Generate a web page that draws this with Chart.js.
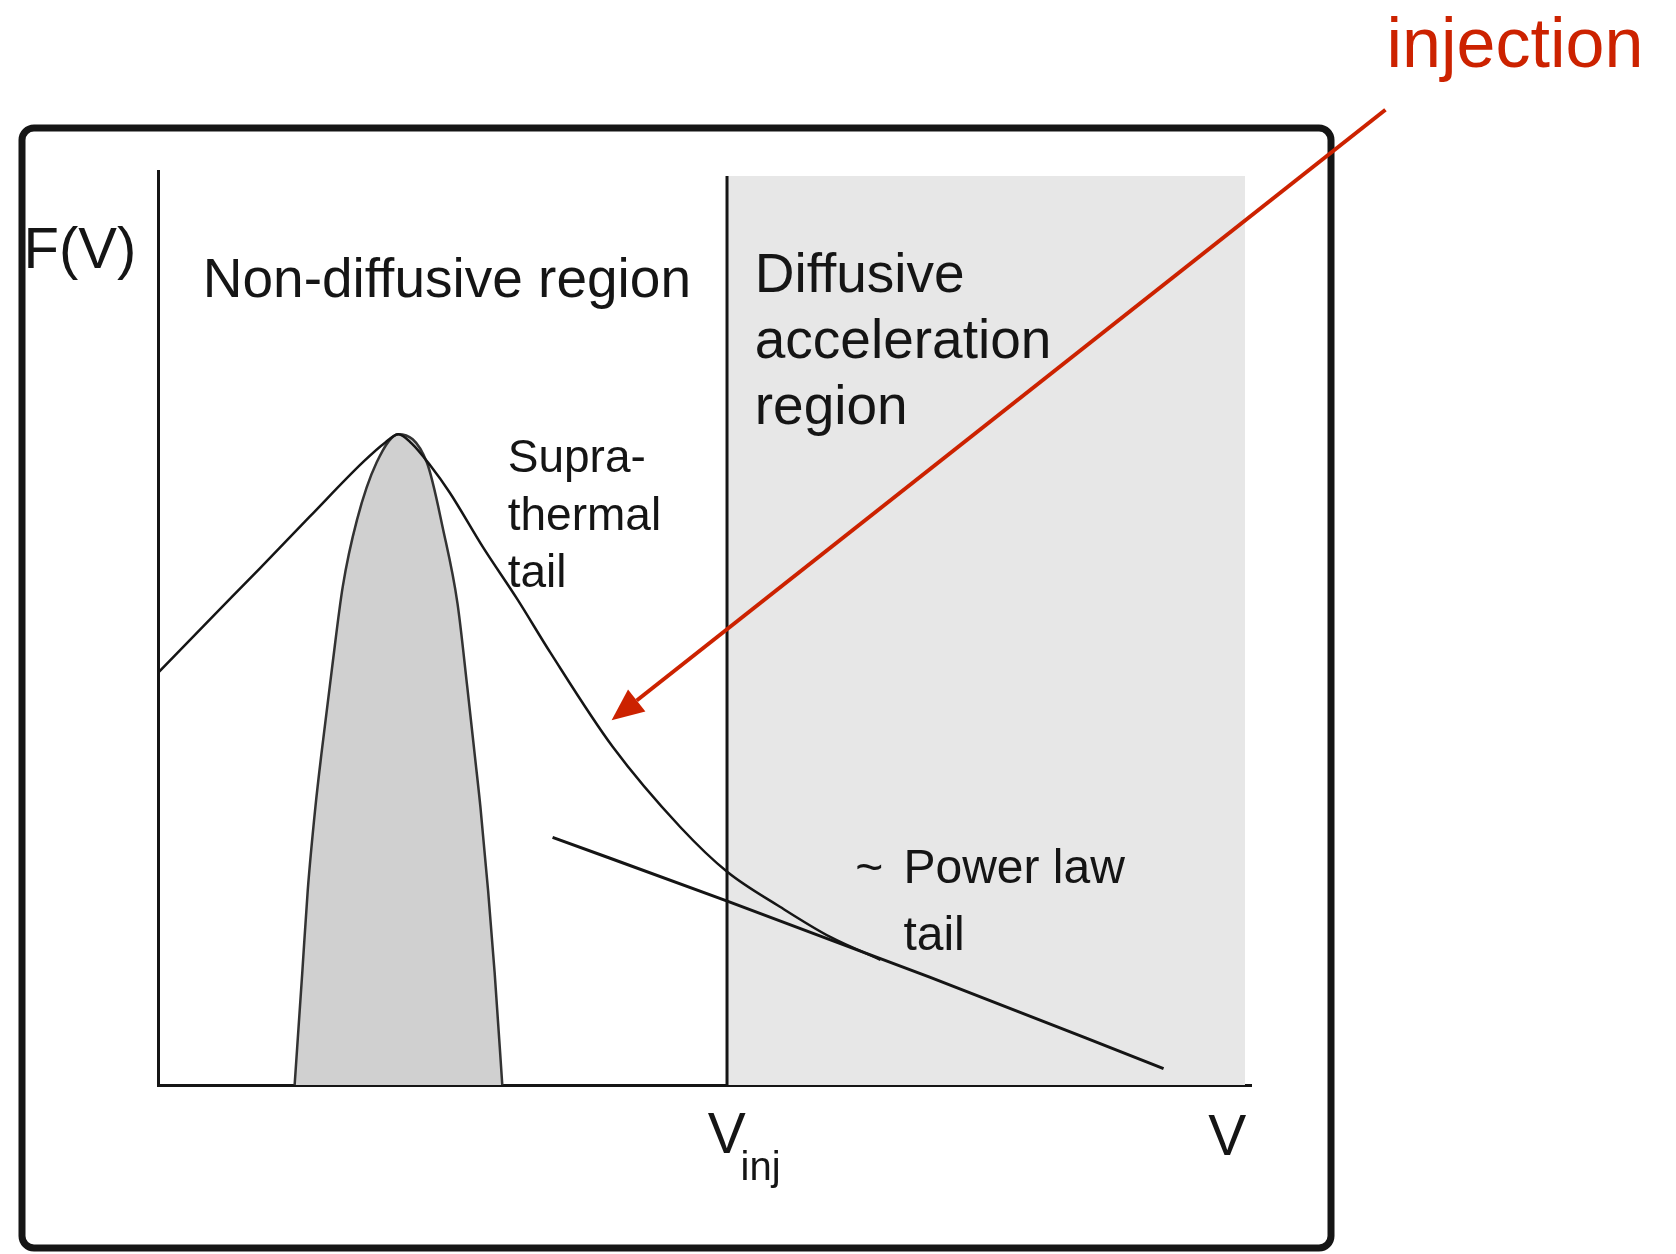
<!DOCTYPE html>
<html lang="en">
  <head>
    <meta charset="utf-8">
    <title>Injection and the suprathermal tail</title>
    <script src="https://cdn.jsdelivr.net/npm/chart.js@4.4.1/dist/chart.umd.min.js"></script>
    <style>
      html, body { margin: 0; padding: 0; background: #fff; }
      #wrap { width: 1676px; height: 1254px; }
    </style>
  </head>
  <body>
    <div id="wrap"><canvas id="chart"></canvas></div>
    <script>
      // values, V and F(V) in arbitrary units (0..100)
      const mainCurveV = [0, 4.8, 9.3, 13.9, 18.8, 20.8, 22.0, 23.2, 24.9, 26.7, 29.7, 32.9, 35.9, 41.6, 47.8, 52.1, 56.9, 61.5, 66.1];
      const mainCurveF = [45.1, 51.0, 56.5, 62.2, 68.2, 70.3, 71.2, 70.2, 67.8, 64.8, 58.9, 53.1, 47.3, 37.0, 28.2, 23.3, 19.5, 16.2, 13.7];

      const maxwellV = [12.5, 13.2, 13.7, 14.4, 15.0, 15.9, 16.9, 18.2, 20.0, 22.0, 24.6, 26.1, 27.4, 28.3, 29.0, 29.5, 30.2, 30.8, 31.5];
      const maxwellF = [0, 12.3, 21.3, 30.4, 36.7, 45.4, 54.5, 61.8, 68.1, 71.2, 68.1, 60.7, 52.7, 43.5, 35.9, 30.4, 21.3, 12.3, 0];

      const powerLawV = [36.1, 51.9, 70.6, 92.0];
      const powerLawF = [27.1, 20.2, 11.8, 1.8];

      const vInj = 52.06;
      const diffusiveEnd = 99.45;
      const regionTop = 99.45;

      const xTickLabels = ['V', 'inj', 'V'];

      const pts = (xs, ys) => xs.map((x, i) => ({ x: x, y: ys[i] }));

      const ink = '#151515';
      const red = '#cc2200';
      const fontName = '"Liberation Sans", Arial, sans-serif';

      // text and arrow placed in data units, turned into pixels by the scales
      const notes = [
        { text: 'F(V)', x: -12.3, y: 89.4, size: 58 },
        { text: 'Non-diffusive region', x: 4.1, y: 86.2, size: 55 },
        { text: 'Diffusive', x: 54.6, y: 86.8, size: 55 },
        { text: 'acceleration', x: 54.6, y: 79.5, size: 55 },
        { text: 'region', x: 54.6, y: 72.3, size: 55 },
        { text: 'Supra-', x: 32.0, y: 67.1, size: 46 },
        { text: 'thermal', x: 32.0, y: 60.7, size: 46 },
        { text: 'tail', x: 32.0, y: 54.5, size: 46 },
        { text: '~', x: 63.8, y: 22.1, size: 48 },
        { text: 'Power law', x: 68.2, y: 22.1, size: 48 },
        { text: 'tail', x: 68.2, y: 14.8, size: 48 },
        { text: xTickLabels[0], x: 50.3, y: -7.4, size: 57 },
        { text: xTickLabels[1], x: 53.3, y: -10.4, size: 40 },
        { text: xTickLabels[2], x: 96.1, y: -7.7, size: 57 },
        { text: 'injection', x: 112.4, y: 111.4, size: 70, color: red }
      ];
      const arrow = { from: { x: 112.3, y: 106.7 }, to: { x: 41.5, y: 39.9 } };

      const sketchPlugin = {
        id: 'sketch',
        afterDraw(chart) {
          const ctx = chart.ctx;
          const sx = chart.scales.x, sy = chart.scales.y;
          ctx.save();

          // outer frame of the figure
          ctx.strokeStyle = ink;
          ctx.lineWidth = 7;
          ctx.beginPath();
          ctx.roundRect(22, 128, 1309, 1120, 12);
          ctx.stroke();

          notes.forEach(n => {
            ctx.font = n.size + 'px ' + fontName;
            ctx.fillStyle = n.color || ink;
            ctx.textBaseline = 'alphabetic';
            ctx.fillText(n.text, sx.getPixelForValue(n.x), sy.getPixelForValue(n.y));
          });

          // red arrow
          const x0 = sx.getPixelForValue(arrow.from.x), y0 = sy.getPixelForValue(arrow.from.y);
          const x1 = sx.getPixelForValue(arrow.to.x), y1 = sy.getPixelForValue(arrow.to.y);
          const ang = Math.atan2(y1 - y0, x1 - x0);
          const head = 32, half = 14;
          const bx = x1 - head * Math.cos(ang), by = y1 - head * Math.sin(ang);
          ctx.strokeStyle = red;
          ctx.fillStyle = red;
          ctx.lineWidth = 4;
          ctx.beginPath();
          ctx.moveTo(x0, y0);
          ctx.lineTo(bx, by);
          ctx.stroke();
          ctx.beginPath();
          ctx.moveTo(x1, y1);
          ctx.lineTo(bx + half * Math.sin(ang), by - half * Math.cos(ang));
          ctx.lineTo(bx - half * Math.sin(ang), by + half * Math.cos(ang));
          ctx.closePath();
          ctx.fill();
          ctx.restore();
        }
      };

      new Chart(document.getElementById('chart'), {
        type: 'line',
        data: {
          datasets: [
            {
              label: 'Distribution',
              data: pts(mainCurveV, mainCurveF),
              borderColor: ink, borderWidth: 2.5, cubicInterpolationMode: 'monotone',
              pointRadius: 0, fill: false, order: 1
            },
            {
              label: 'Power law',
              data: pts(powerLawV, powerLawF),
              borderColor: ink, borderWidth: 3, cubicInterpolationMode: 'monotone',
              pointRadius: 0, fill: false, order: 2
            },
            {
              label: 'Maxwellian',
              data: pts(maxwellV, maxwellF),
              borderColor: '#333', borderWidth: 2.5, cubicInterpolationMode: 'monotone',
              backgroundColor: '#d0d0d0', pointRadius: 0, fill: 'origin', order: 3
            },
            {
              label: 'V_inj',
              data: [{ x: vInj, y: 0 }, { x: vInj, y: regionTop }],
              borderColor: ink, borderWidth: 3, pointRadius: 0, fill: false, order: 4
            },
            {
              label: 'Diffusive region',
              data: [{ x: vInj, y: regionTop }, { x: diffusiveEnd, y: regionTop }],
              borderWidth: 0, borderColor: 'rgba(0,0,0,0)',
              backgroundColor: '#e7e7e7', pointRadius: 0, fill: 'origin', order: 5
            }
          ]
        },
        options: {
          responsive: true,
          maintainAspectRatio: false,
          animation: false,
          layout: { padding: { left: 158, top: 171, right: 425, bottom: 169 } },
          plugins: { legend: { display: false }, tooltip: { enabled: false } },
          scales: {
            x: {
              type: 'linear', min: 0, max: 100,
              grid: { display: false, drawTicks: false },
              ticks: { display: false },
              border: { display: true, color: ink, width: 3 },
              afterFit: s => { s.height = 0; }
            },
            y: {
              type: 'linear', min: 0, max: 100,
              grid: { display: false, drawTicks: false },
              ticks: { display: false },
              border: { display: true, color: ink, width: 3 },
              afterFit: s => { s.width = 0; }
            }
          }
        },
        plugins: [sketchPlugin]
      });
    </script>
  </body>
</html>
